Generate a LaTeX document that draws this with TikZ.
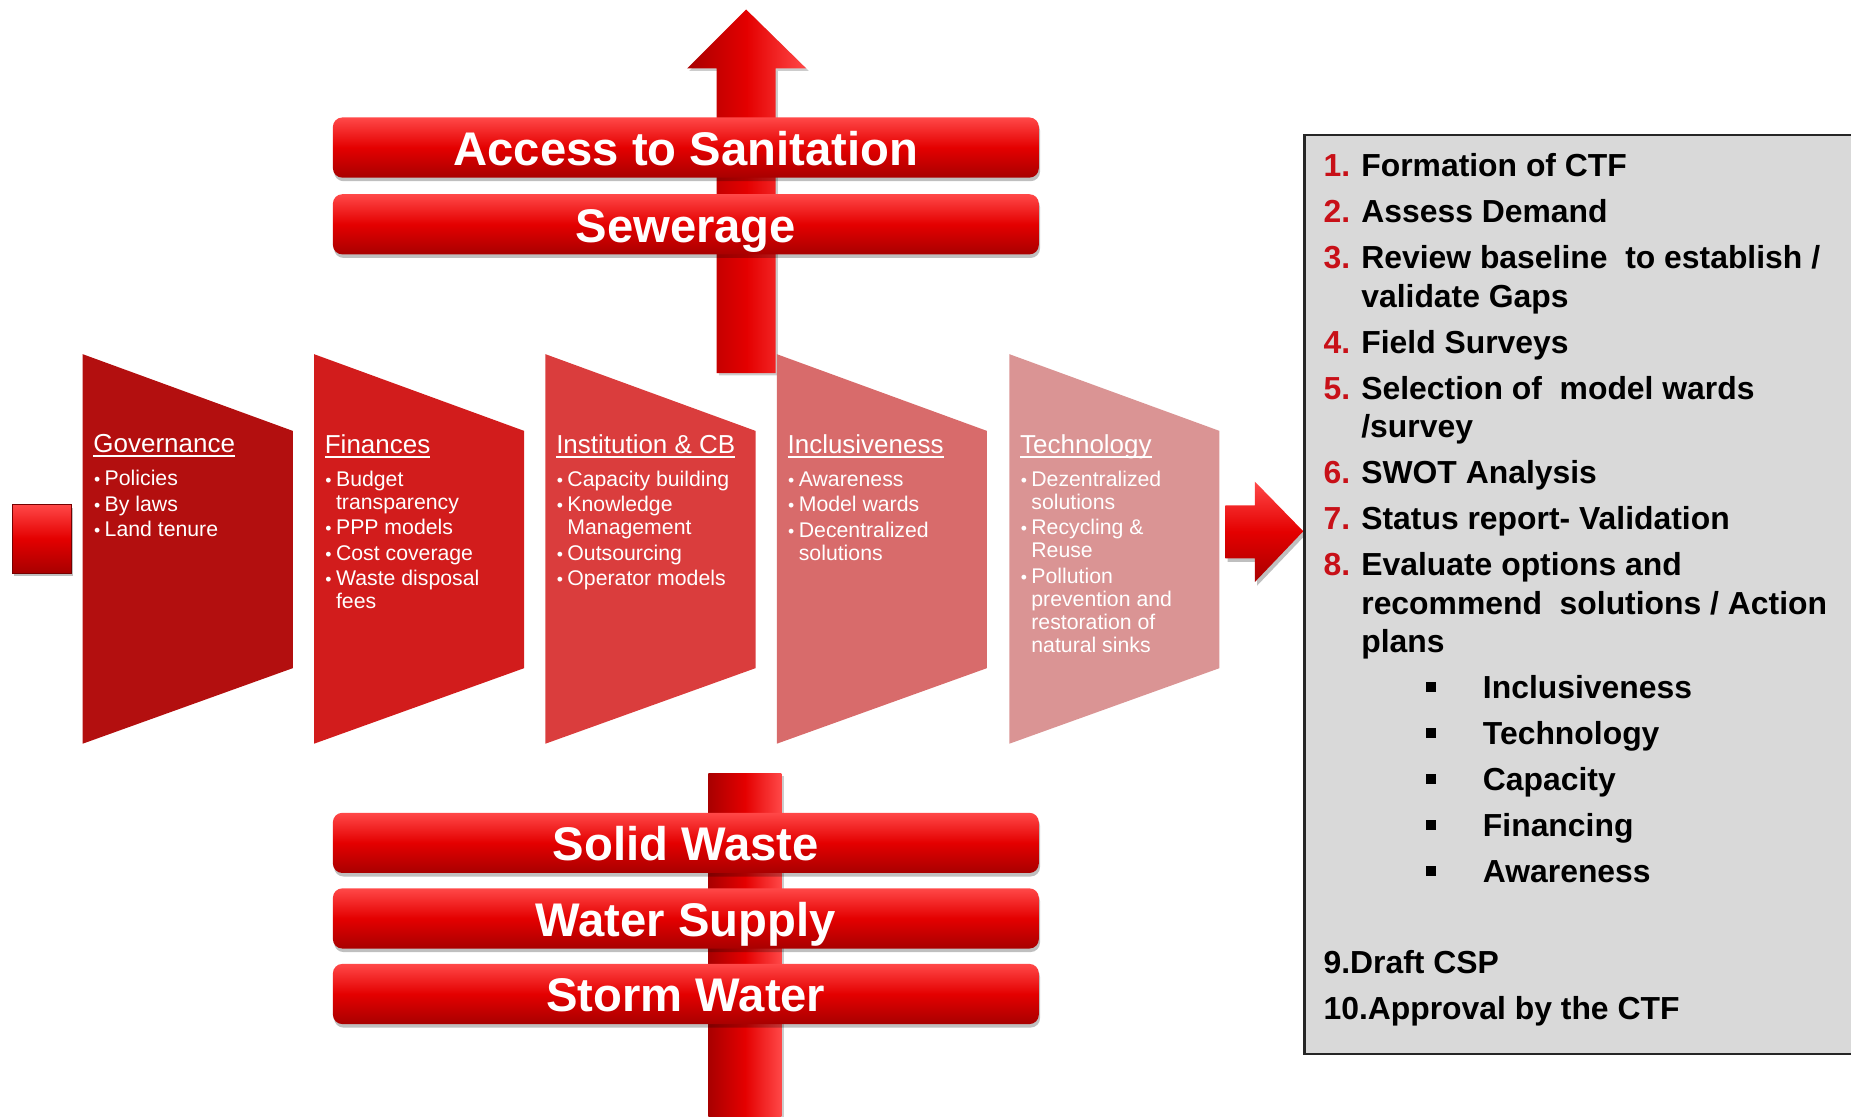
\documentclass[tikz,border=0pt]{standalone}
\usepackage{fontspec}
\setmainfont{Liberation Sans}
\usetikzlibrary{shadows}
\definecolor{govred}{RGB}{179,15,15}
\definecolor{finred}{RGB}{210,28,28}
\definecolor{instred}{RGB}{218,61,61}
\definecolor{inclred}{RGB}{216,107,107}
\definecolor{techred}{RGB}{218,148,148}
\definecolor{barhi}{RGB}{255,72,72}
\definecolor{barmid}{RGB}{228,0,0}
\definecolor{barlo}{RGB}{168,0,0}
\definecolor{numred}{RGB}{200,16,24}
\definecolor{boxgray}{RGB}{217,217,217}
\newcommand{\ptitle}[1]{{\fontsize{22}{19.5}\selectfont\setbox0\hbox{#1}\rlap{\rule[-3.5pt]{\wd0}{1.4pt}}\box0}}
\newcommand{\pb}{\makebox[9.5pt][l]{\kern0.5pt{\fontsize{15}{15}\selectfont\textbullet}}}
\newcommand{\pc}{\hspace*{9.5pt}}
\newcommand{\nr}[1]{\makebox[32pt][l]{\color{numred}#1}}
\newcommand{\sq}{\hspace*{87pt}\makebox[48pt][l]{\rule[5.8pt]{8.5pt}{8.5pt}}}
\begin{document}
\begin{tikzpicture}[x=1pt, y=-1pt, inner sep=0pt,
    bar/.style={rounded corners=8pt, minimum width=598pt, minimum height=51pt, text=white,
      font=\bfseries\fontsize{40}{40}\selectfont, text height=30pt, text depth=0pt,
      top color=barhi, bottom color=barlo, middle color=barmid,
      drop shadow={shadow xshift=1pt, shadow yshift=-3pt, fill=black, opacity=0.25}},
    paneltext/.style={anchor=north west, align=left, text=white, font=\fontsize{18}{19.5}\selectfont},
    steptext/.style={anchor=north west, align=left, font=\bfseries\fontsize{27}{32.5}\selectfont}]
  \useasboundingbox (0,0) rectangle (1568,946);
  \shade[left color=barlo, right color=barhi, middle color=barmid,
    drop shadow={shadow xshift=2pt, shadow yshift=-2pt, fill=black, opacity=0.2}]
    (607,316) -- (607,58) -- (582,58) -- (632,8) -- (683,58) -- (657,58) -- (657,316) -- cycle;
  \shade[left color=barlo, right color=barhi, middle color=barmid,
    drop shadow={shadow xshift=2pt, shadow yshift=-2pt, fill=black, opacity=0.2}]
    (600,655) rectangle (662,946);
  \node[bar] (Access) at (581,125) {Access to Sanitation};
  \node[bar] (Sewer) at (581,190) {Sewerage};
  \node[bar] (Solid) at (581,714) {Solid Waste};
  \node[bar] (Water) at (581,778) {Water Supply};
  \node[bar] (Storm) at (581,842) {Storm Water};
  \fill[govred] (70,300) -- (248,365) -- (248,566) -- (70,630) -- cycle;
  \fill[finred] (266,300) -- (444,365) -- (444,566) -- (266,630) -- cycle;
  \fill[instred] (462,300) -- (640,365) -- (640,566) -- (462,630) -- cycle;
  \fill[inclred] (658,300) -- (836,365) -- (836,566) -- (658,630) -- cycle;
  \fill[techred] (855,300) -- (1033,365) -- (1033,566) -- (855,630) -- cycle;
  \node[paneltext] (Gov) at (79,368) {\ptitle{Governance}\\[8.5pt]
    \pb Policies\\[2pt]
    \pb By laws\\[2pt]
    \pb Land tenure};
  \node[paneltext] (Fin) at (275,368) {\ptitle{Finances}\\[8.5pt]
    \pb Budget\\
    \pc transparency\\[2pt]
    \pb PPP models\\[2pt]
    \pb Cost coverage\\[2pt]
    \pb Waste disposal\\
    \pc fees};
  \node[paneltext] (Inst) at (471,368) {\ptitle{Institution \& CB}\\[8.5pt]
    \pb Capacity building\\[2pt]
    \pb Knowledge\\
    \pc Management\\[2pt]
    \pb Outsourcing\\[2pt]
    \pb Operator models};
  \node[paneltext] (Incl) at (667,368) {\ptitle{Inclusiveness}\\[8.5pt]
    \pb Awareness\\[2pt]
    \pb Model wards\\[2pt]
    \pb Decentralized\\
    \pc solutions};
  \node[paneltext] (Tech) at (864,368) {\ptitle{Technology}\\[8.5pt]
    \pb Dezentralized\\
    \pc solutions\\[2pt]
    \pb Recycling \&\\
    \pc Reuse\\[2pt]
    \pb Pollution\\
    \pc prevention and\\
    \pc restoration of\\
    \pc natural sinks};
  \node[minimum width=50pt, minimum height=58pt, anchor=north west, draw=barlo!70!black, thin,
    top color=barhi, bottom color=barlo, middle color=barmid,
    drop shadow={shadow xshift=2pt, shadow yshift=-3pt, fill=black, opacity=0.25}] (Start) at (10,427) {};
  \shade[top color=barhi, bottom color=barlo, middle color=barmid,
    drop shadow={shadow xshift=2pt, shadow yshift=-3pt, fill=black, opacity=0.25}]
    (1038,428) -- (1063,428) -- (1063,408) -- (1104,450) -- (1063,493) -- (1063,473) -- (1038,473) -- cycle;
  \filldraw[fill=boxgray, draw=black!85, line width=1.8pt] (1105,114) rectangle (1575,893);
  \node[steptext] (Steps) at (1121,130) {\nr{1.}Formation of CTF\\[6.5pt]
    \nr{2.}Assess Demand\\[6.5pt]
    \nr{3.}Review baseline\ \ to establish /\\
    \hspace*{32pt}validate Gaps\\[6.5pt]
    \nr{4.}Field Surveys\\[6.5pt]
    \nr{5.}Selection of\ \ model wards\\
    \hspace*{32pt}/survey\\[6.5pt]
    \nr{6.}SWOT Analysis\\[6.5pt]
    \nr{7.}Status report- Validation\\[6.5pt]
    \nr{8.}Evaluate options and\\
    \hspace*{32pt}recommend\ \ solutions / Action\\
    \hspace*{32pt}plans\\[6.5pt]
    \sq Inclusiveness\\[6.5pt]
    \sq Technology\\[6.5pt]
    \sq Capacity\\[6.5pt]
    \sq Financing\\[6.5pt]
    \sq Awareness\\[44pt]
    9.Draft CSP\\[6.5pt]
    10.Approval by the CTF};
\end{tikzpicture}
\end{document}
